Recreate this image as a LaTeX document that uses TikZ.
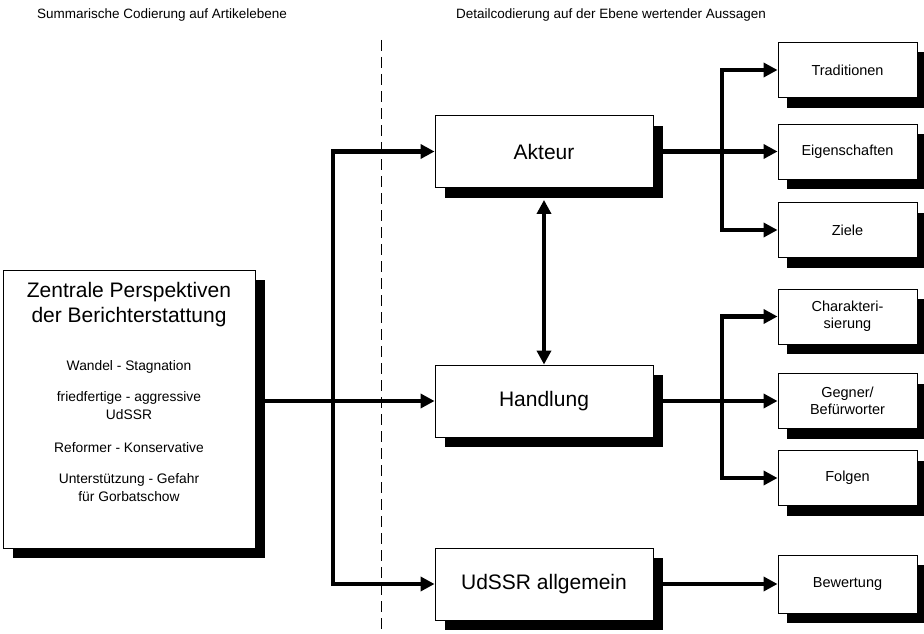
\documentclass[tikz,border=0pt]{standalone}
\usepackage{fontspec}
\setmainfont{Liberation Sans}
\usetikzlibrary{arrows.meta,shadows}
\begin{document}
\begin{tikzpicture}[x=1pt,y=-1pt,
  box/.style={draw, line width=0.9pt, fill=white, inner sep=0pt, align=center},
  shadowA/.style={drop shadow={shadow xshift=10pt, shadow yshift=-10pt, fill=black, opacity=1}},
  shadowB/.style={drop shadow={shadow xshift=9pt, shadow yshift=-10pt, fill=black, opacity=1}},
  midbox/.style={box, shadowA, minimum width=218pt, minimum height=72pt, font=\fontsize{21}{25}\selectfont},
  smallbox/.style={box, shadowB, minimum width=139pt, minimum height=55pt, font=\fontsize{14.5}{17}\selectfont},
  bigbox/.style={box, shadowA, minimum width=252pt, minimum height=278pt},
  head/.style={font=\fontsize{13.5}{16}\selectfont, inner sep=0pt},
  title/.style={font=\fontsize{21}{25}\selectfont, align=center, inner sep=0pt},
  item/.style={font=\fontsize{13.8}{18}\selectfont, align=center, inner sep=0pt},
  arr/.style={line width=4.5pt, line join=miter, -{Triangle[length=14pt,width=14pt]}},
  darr/.style={line width=4.5pt, {Triangle[length=14pt,width=14pt]}-{Triangle[length=14pt,width=14pt]}},
  sep/.style={line width=0.8pt, dash pattern=on 11pt off 6pt}
]
\useasboundingbox (0,0) rectangle (924,634);

% headers
\node[head] (h1) at (162,15) {Summarische Codierung auf Artikelebene};
\node[head] (h2) at (611,15) {Detailcodierung auf der Ebene wertender Aussagen};

% dashed separator
\coordinate (s1) at (381,40);
\coordinate (s2) at (381,634);
\draw[sep] (s1) -- (s2);

% left box
\node[bigbox] (big) at (129,409) {};
\node[title] (t1) at (129,304.5) {Zentrale Perspektiven\\der Berichterstattung};
\node[item] (i1) at (129,367) {Wandel - Stagnation};
\node[item] (i2) at (129,406) {friedfertige - aggressive\\UdSSR};
\node[item] (i3) at (129,448) {Reformer - Konservative};
\node[item] (i4) at (129,487.5) {Unterstützung - Gefahr\\für Gorbatschow};

% middle boxes
\node[midbox] (akt) at (544,151.5) {Akteur};
\node[midbox] (hand) at (544,401) {Handlung};
\node[midbox] (uds) at (544,584) {UdSSR allgemein};

% right boxes
\node[smallbox] (trad) at (847.5,70) {Traditionen};
\node[smallbox] (eig) at (847.5,151.5) {Eigenschaften};
\node[smallbox] (ziel) at (847.5,230) {Ziele};
\node[smallbox] (char) at (847.5,316.5) {Charakteri-\\sierung};
\node[smallbox] (gegn) at (847.5,401) {Gegner/\\Befürworter};
\node[smallbox] (folg) at (847.5,478) {Folgen};
\node[smallbox, minimum height=58pt] (bew) at (847.5,584) {Bewertung};

% junction coordinates
\coordinate (j1) at (333,401);
\coordinate (j2) at (722,151.5);
\coordinate (j3) at (722,401);

% left connectors
\draw[arr] (big.east |- hand.west) -- (hand.west);
\draw[arr] (j1) |- (akt.west);
\draw[arr] (j1) |- (uds.west);

% Akteur branches
\draw[arr] (akt.east) -- (eig.west);
\draw[arr] (j2) |- (trad.west);
\draw[arr] (j2) |- (ziel.west);

% Handlung branches
\draw[arr] (hand.east) -- (gegn.west);
\draw[arr] (j3) |- (char.west);
\draw[arr] (j3) |- (folg.west);

% UdSSR allgemein
\draw[arr] (uds.east) -- (bew.west);

% double arrow
\draw[darr] ([yshift=-12pt]akt.south) -- (hand.north);
\end{tikzpicture}
\end{document}
